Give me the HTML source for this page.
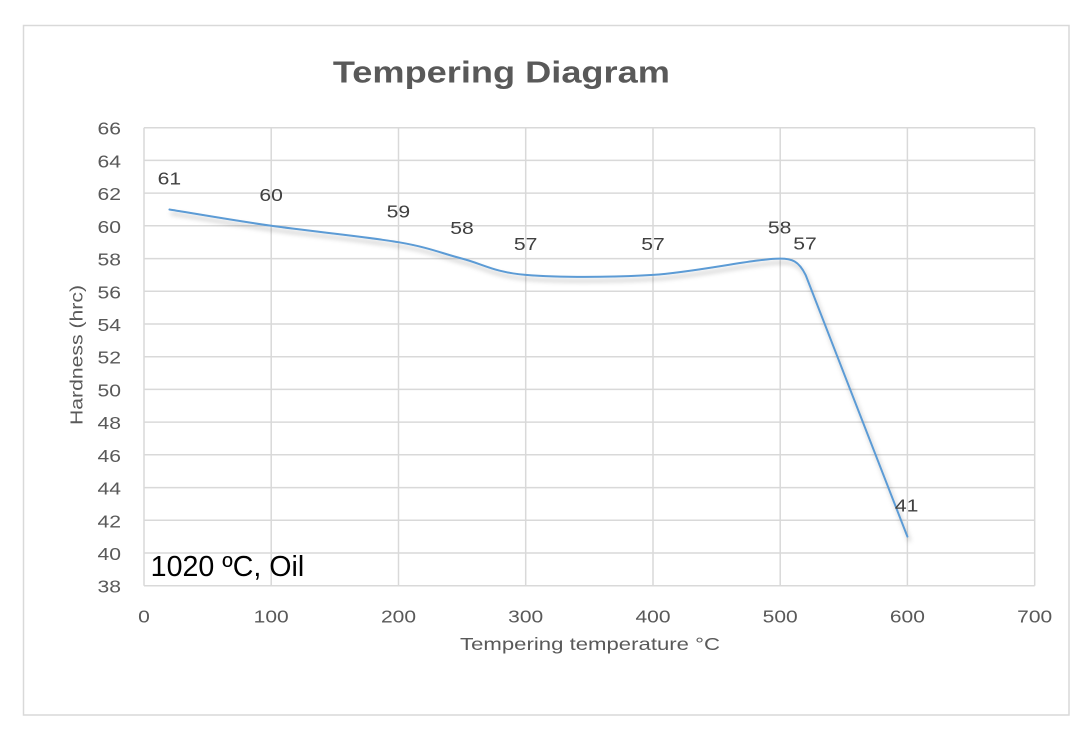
<!DOCTYPE html>
<html>
<head>
<meta charset="utf-8">
<style>
  html, body { margin: 0; padding: 0; background: #ffffff; }
  svg { display: block; }
  text { font-family: "Liberation Sans", "DejaVu Sans", sans-serif; }
</style>
</head>
<body>
<svg width="1091" height="740" viewBox="0 0 1091 740" xmlns="http://www.w3.org/2000/svg">
  <defs>
    <filter id="sh" x="-10%" y="-10%" width="120%" height="130%">
      <feDropShadow dx="2" dy="4" stdDeviation="2.5" flood-color="#000000" flood-opacity="0.28"/>
    </filter>
  </defs>
  <rect x="0" y="0" width="1091" height="740" fill="#ffffff"/>
  <!-- chart border -->
  <rect x="23.5" y="25.5" width="1045.5" height="689.5" fill="none" stroke="#d9d9d9" stroke-width="1.5"/>

  <!-- title -->
  <text x="501.4" y="82.7" text-anchor="middle" font-size="31" font-weight="bold" fill="#595959" textLength="337" lengthAdjust="spacingAndGlyphs">Tempering Diagram</text>

  <!-- horizontal gridlines -->
  <g stroke="#d9d9d9" stroke-width="1.5">
    <line x1="144" y1="127.7" x2="1034.7" y2="127.7"/>
    <line x1="144" y1="160.4" x2="1034.7" y2="160.4"/>
    <line x1="144" y1="193.1" x2="1034.7" y2="193.1"/>
    <line x1="144" y1="225.8" x2="1034.7" y2="225.8"/>
    <line x1="144" y1="258.6" x2="1034.7" y2="258.6"/>
    <line x1="144" y1="291.3" x2="1034.7" y2="291.3"/>
    <line x1="144" y1="324.0" x2="1034.7" y2="324.0"/>
    <line x1="144" y1="356.7" x2="1034.7" y2="356.7"/>
    <line x1="144" y1="389.4" x2="1034.7" y2="389.4"/>
    <line x1="144" y1="422.1" x2="1034.7" y2="422.1"/>
    <line x1="144" y1="454.8" x2="1034.7" y2="454.8"/>
    <line x1="144" y1="487.6" x2="1034.7" y2="487.6"/>
    <line x1="144" y1="520.3" x2="1034.7" y2="520.3"/>
    <line x1="144" y1="553.0" x2="1034.7" y2="553.0"/>
    <line x1="144" y1="585.7" x2="1034.7" y2="585.7"/>
    <!-- vertical gridlines -->
    <line x1="144" y1="127.7" x2="144" y2="585.7"/>
    <line x1="271.2" y1="127.7" x2="271.2" y2="585.7"/>
    <line x1="398.5" y1="127.7" x2="398.5" y2="585.7"/>
    <line x1="525.7" y1="127.7" x2="525.7" y2="585.7"/>
    <line x1="653.0" y1="127.7" x2="653.0" y2="585.7"/>
    <line x1="780.2" y1="127.7" x2="780.2" y2="585.7"/>
    <line x1="907.4" y1="127.7" x2="907.4" y2="585.7"/>
    <line x1="1034.7" y1="127.7" x2="1034.7" y2="585.7"/>
  </g>

  <!-- y tick labels -->
  <g font-size="17.5" fill="#595959" text-anchor="end">
    <text x="121" y="134.7" textLength="23.5" lengthAdjust="spacingAndGlyphs">66</text>
    <text x="121" y="167.4" textLength="23.5" lengthAdjust="spacingAndGlyphs">64</text>
    <text x="121" y="200.1" textLength="23.5" lengthAdjust="spacingAndGlyphs">62</text>
    <text x="121" y="232.8" textLength="23.5" lengthAdjust="spacingAndGlyphs">60</text>
    <text x="121" y="265.6" textLength="23.5" lengthAdjust="spacingAndGlyphs">58</text>
    <text x="121" y="298.3" textLength="23.5" lengthAdjust="spacingAndGlyphs">56</text>
    <text x="121" y="331.0" textLength="23.5" lengthAdjust="spacingAndGlyphs">54</text>
    <text x="121" y="363.7" textLength="23.5" lengthAdjust="spacingAndGlyphs">52</text>
    <text x="121" y="396.4" textLength="23.5" lengthAdjust="spacingAndGlyphs">50</text>
    <text x="121" y="429.1" textLength="23.5" lengthAdjust="spacingAndGlyphs">48</text>
    <text x="121" y="461.8" textLength="23.5" lengthAdjust="spacingAndGlyphs">46</text>
    <text x="121" y="494.6" textLength="23.5" lengthAdjust="spacingAndGlyphs">44</text>
    <text x="121" y="527.3" textLength="23.5" lengthAdjust="spacingAndGlyphs">42</text>
    <text x="121" y="560.0" textLength="23.5" lengthAdjust="spacingAndGlyphs">40</text>
    <text x="121" y="592.7" textLength="23.5" lengthAdjust="spacingAndGlyphs">38</text>
  </g>

  <!-- x tick labels -->
  <g font-size="17.5" fill="#595959" text-anchor="middle">
    <text x="144" y="622.3" textLength="11.7" lengthAdjust="spacingAndGlyphs">0</text>
    <text x="271.2" y="622.3" textLength="35" lengthAdjust="spacingAndGlyphs">100</text>
    <text x="398.5" y="622.3" textLength="35" lengthAdjust="spacingAndGlyphs">200</text>
    <text x="525.7" y="622.3" textLength="35" lengthAdjust="spacingAndGlyphs">300</text>
    <text x="653.0" y="622.3" textLength="35" lengthAdjust="spacingAndGlyphs">400</text>
    <text x="780.2" y="622.3" textLength="35" lengthAdjust="spacingAndGlyphs">500</text>
    <text x="907.4" y="622.3" textLength="35" lengthAdjust="spacingAndGlyphs">600</text>
    <text x="1034.7" y="622.3" textLength="35" lengthAdjust="spacingAndGlyphs">700</text>
  </g>

  <!-- axis titles -->
  <text x="590" y="650" text-anchor="middle" font-size="17.5" fill="#595959" textLength="260" lengthAdjust="spacingAndGlyphs">Tempering temperature °C</text>
  <text transform="translate(82.5,355) rotate(-90)" x="0" y="0" text-anchor="middle" font-size="17.5" fill="#595959" textLength="140" lengthAdjust="spacingAndGlyphs">Hardness (hrc)</text>

  <!-- series line (smoothed) -->
  <path filter="url(#sh)" fill="none" stroke="#5b9bd5" stroke-width="2" stroke-linejoin="round" stroke-linecap="round"
    d="M169.45,209.5
       C186.4,212.2 233.1,220.35 271.24,225.8
       C309.4,231.25 366.7,236.7 398.5,242.2
       C430.3,247.7 440.9,253.15 462.1,258.6
       C483.3,264.05 493.9,272.2 525.7,274.9
       C557.5,277.6 610.6,277.6 653.0,274.9
       C695.4,272.2 754.8,258.6 780.2,258.6
       C791.5,258.6 798.5,260.5 805.6,274.9
       C822.6,318.5 890.4,493 907.4,536.6"/>

  <!-- data labels -->
  <g font-size="17.5" fill="#404040" text-anchor="middle">
    <text x="169.4" y="184.5" textLength="23.5" lengthAdjust="spacingAndGlyphs">61</text>
    <text x="271.2" y="200.8" textLength="23.5" lengthAdjust="spacingAndGlyphs">60</text>
    <text x="398.4" y="217.3" textLength="23.5" lengthAdjust="spacingAndGlyphs">59</text>
    <text x="462.0" y="233.8" textLength="23.5" lengthAdjust="spacingAndGlyphs">58</text>
    <text x="525.7" y="250.0" textLength="23.5" lengthAdjust="spacingAndGlyphs">57</text>
    <text x="653.0" y="250.0" textLength="23.5" lengthAdjust="spacingAndGlyphs">57</text>
    <text x="779.7" y="233.5" textLength="23.5" lengthAdjust="spacingAndGlyphs">58</text>
    <text x="805.0" y="249.5" textLength="23.5" lengthAdjust="spacingAndGlyphs">57</text>
    <text x="906.7" y="511.7" textLength="23.5" lengthAdjust="spacingAndGlyphs">41</text>
  </g>

  <!-- annotation -->
  <text x="150.7" y="576" font-size="28.5" fill="#000000" textLength="153.5" lengthAdjust="spacingAndGlyphs">1020 ºC, Oil</text>
</svg>
</body>
</html>
